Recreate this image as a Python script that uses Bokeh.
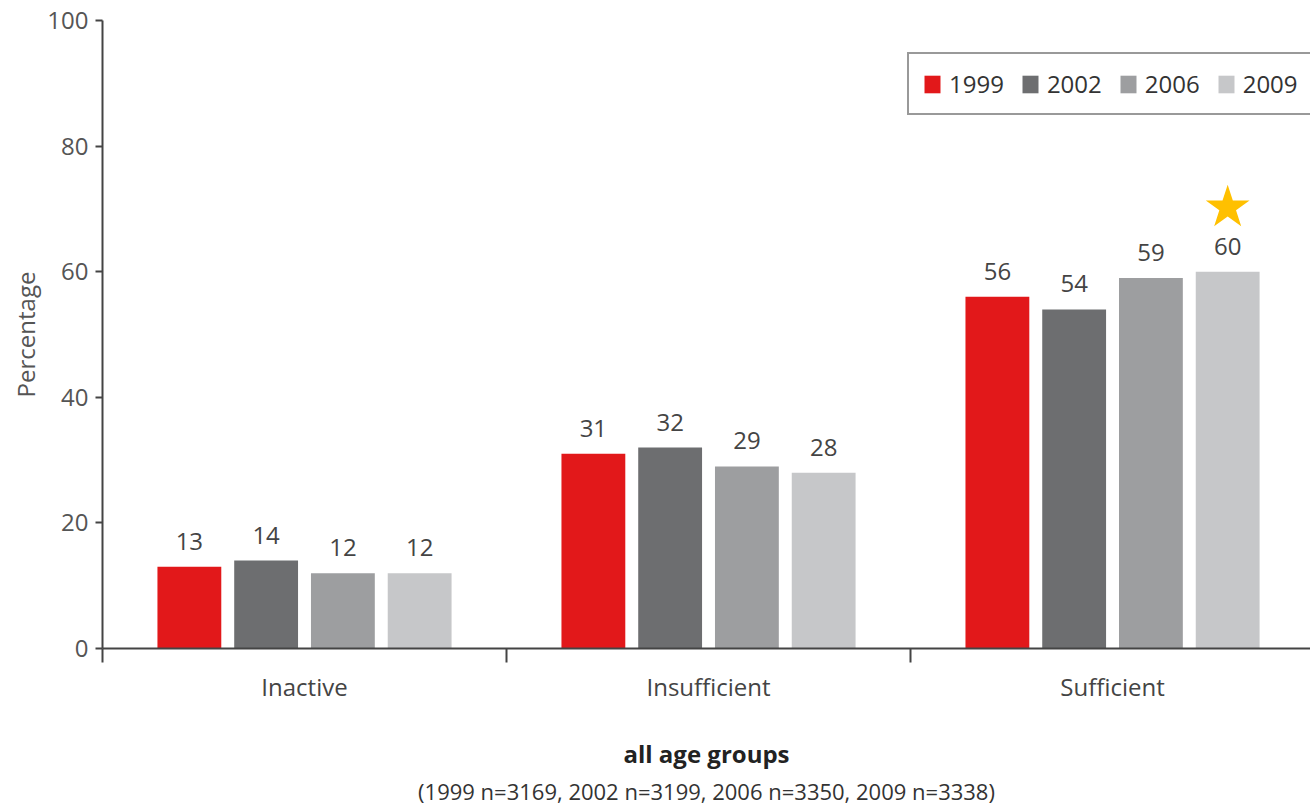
from bokeh.plotting import figure
from bokeh.models import (ColumnDataSource, Range1d, FixedTicker, LabelSet,
                          Legend, LegendItem, Title)
from bokeh.core.properties import value
from bokeh.embed import file_html
from bokeh.resources import INLINE

# Activity levels, survey years and percentages
categories = ["Inactive", "Insufficient", "Sufficient"]
years = ["1999", "2002", "2006", "2009"]
values_1999 = [13, 31, 56]
values_2002 = [14, 32, 54]
values_2006 = [12, 29, 59]
values_2009 = [12, 28, 60]
year_colors = ["#E2181A", "#6D6E70", "#9D9EA0", "#C6C7C9"]
y_ticks = [0, 20, 40, 60, 80, 100]
subtitle = "(1999 n=3169, 2002 n=3199, 2006 n=3350, 2009 n=3338)"

series = [values_1999, values_2002, values_2006, values_2009]
FONT = "Open Sans"

p = figure(width=1310, height=806, output_backend="svg", toolbar_location=None,
           x_range=Range1d(0, 2.99), y_range=Range1d(0, 100),
           min_border_left=102, min_border_right=0, min_border_top=20,
           min_border_bottom=0)
p.outline_line_color = None
p.xgrid.grid_line_color = None
p.ygrid.grid_line_color = None

bar_w = 0.158
step = 0.19
items = []
for i, (yr, vals, col) in enumerate(zip(years, series, year_colors)):
    off = (i - 1.5) * step
    xs = [k + 0.5 + off for k in range(len(categories))]
    src = ColumnDataSource(dict(x=xs, top=vals, lbl=[str(v) for v in vals]))
    r = p.vbar(x="x", top="top", width=bar_w, source=src,
               fill_color=col, line_color=None)
    items.append(LegendItem(label=yr, renderers=[r]))
    p.add_layout(LabelSet(x="x", y="top", text="lbl", source=src,
                          y_offset=17, text_align="center",
                          text_baseline="alphabetic", text_font=value(FONT),
                          text_font_size="24px", text_color="#444444"))

# star above the highest 2009 bar
best = max(range(len(categories)), key=lambda k: values_2009[k])
p.scatter(x=[best + 0.5 + 1.5 * step], y=[values_2009[best] + 10.2],
          marker="star", size=46, fill_color="#FFC000", line_color=None)

# y axis
ya = p.yaxis[0]
ya.ticker = FixedTicker(ticks=y_ticks)
ya.axis_label = "Percentage"
ya.axis_label_text_font = FONT
ya.axis_label_text_font_style = "normal"
ya.axis_label_text_font_size = "24px"
ya.axis_label_text_color = "#555555"
ya.axis_label_standoff = 2
ya.major_label_text_font = FONT
ya.major_label_text_font_size = "24px"
ya.major_label_text_color = "#555555"
ya.major_label_standoff = 7
ya.major_tick_out = 7
ya.major_tick_in = 0
ya.minor_tick_out = 0
ya.axis_line_color = "#444444"
ya.axis_line_width = 2
ya.major_tick_line_color = "#444444"
ya.major_tick_line_width = 2

# x axis: labels at group centres, separator ticks between groups
xa = p.xaxis[0]
centers = [k + 0.5 for k in range(len(categories))]
xa.ticker = FixedTicker(ticks=centers,
                        minor_ticks=list(range(len(categories) + 1)))
xa.major_label_overrides = {c: name for c, name in zip(centers, categories)}
xa.major_tick_out = 0
xa.major_tick_in = 0
xa.minor_tick_out = 14
xa.minor_tick_in = 0
xa.minor_tick_line_color = "#444444"
xa.minor_tick_line_width = 2
xa.axis_line_color = "#444444"
xa.axis_line_width = 2
xa.major_label_text_font = FONT
xa.major_label_text_font_size = "24px"
xa.major_label_text_color = "#444444"
xa.major_label_standoff = 7
xa.axis_label = "all age groups"
xa.axis_label_text_font = FONT
xa.axis_label_text_font_style = "bold"
xa.axis_label_text_font_size = "24px"
xa.axis_label_text_color = "#222222"
xa.axis_label_standoff = 31

p.add_layout(Title(text=subtitle, align="center", text_font=FONT,
                   text_font_size="22px", text_font_style="normal",
                   text_color="#333333", standoff=2), "below")

legend = Legend(items=items, orientation="horizontal", location=(805, 533),
                glyph_width=20, glyph_height=22, label_standoff=7, spacing=16,
                padding=13, margin=0, label_text_font=FONT,
                label_text_font_size="24px", label_text_color="#333333",
                border_line_color="#333333", border_line_width=2,
                background_fill_alpha=1)
p.add_layout(legend)

open("out.html", "w").write(file_html(p, INLINE))
